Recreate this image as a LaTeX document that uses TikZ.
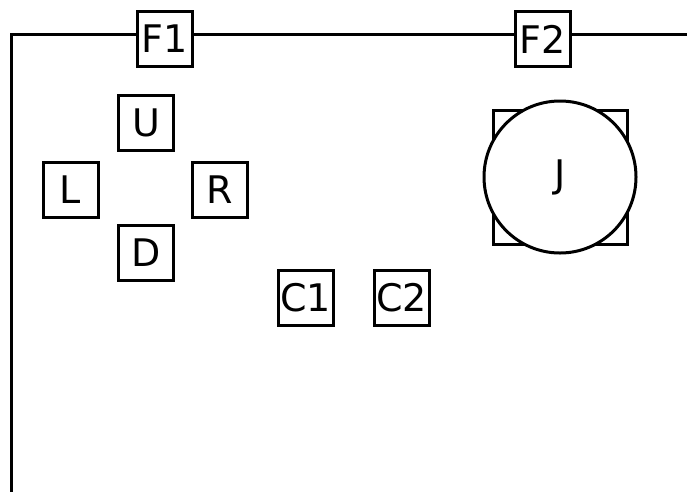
\documentclass[tikz,border=0pt]{standalone}
\usepackage{fontspec}
\setmainfont{DejaVu Sans}
\begin{document}
\begin{tikzpicture}[x=1pt,y=-1pt,
  lw/.style={line width=3pt},
  keybox/.style={draw,lw,fill=white,minimum width=55pt,minimum height=55pt,inner sep=0pt,
    font=\fontsize{38}{44}\selectfont},
  jsq/.style={draw,lw,fill=white,minimum width=134pt,minimum height=134pt,inner sep=0pt},
  jcirc/.style={circle,draw,lw,fill=white,minimum size=152pt,inner sep=0pt,
    font=\fontsize{38}{44}\selectfont}]
\useasboundingbox (0,0) rectangle (687,491);
\coordinate (bl) at (11,492);
\coordinate (tl) at (11,34.5);
\coordinate (tr) at (688,34.5);
\node[keybox] (F1) at (164.5,39) {F1};
\node[keybox] (F2) at (542.5,39) {F2};
\draw[lw] (bl) |- (F1.west |- tl);
\draw[lw] (F1.east |- tl) -- (F2.west |- tl);
\draw[lw] (F2.east |- tl) -- (tr);
\node[keybox] (U) at (146,122.5) {U};
\node[keybox] (L) at (70.5,189.5) {L};
\node[keybox] (R) at (219.5,189.5) {R};
\node[keybox] (D) at (146,252.5) {D};
\node[keybox] (C1) at (305.5,297.5) {C1};
\node[keybox] (C2) at (401.5,297.5) {C2};
\node[jsq] (Jsq) at (560,177.5) {};
\node[jcirc] (J) at (560,177) {J};
\end{tikzpicture}
\end{document}
